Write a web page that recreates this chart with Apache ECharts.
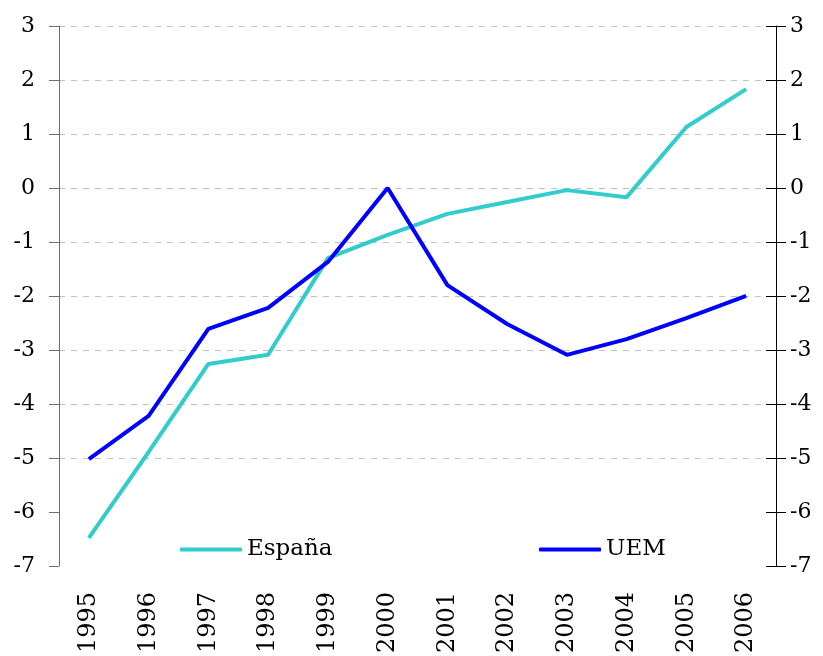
<!DOCTYPE html>
<html><head><meta charset="utf-8">
<script src="https://cdn.jsdelivr.net/npm/echarts@6/dist/echarts.min.js"></script>
<style>html,body{margin:0;padding:0;background:#fff}#c{width:823px;height:656px}</style>
</head><body><div id="c"></div>
<script>
const years = ['1995','1996','1997','1998','1999','2000','2001','2002','2003','2004','2005','2006'];
const espana = [-6.48,-4.89,-3.26,-3.09,-1.30,-0.87,-0.48,-0.26,-0.04,-0.17,1.13,1.83];
const uem = [-5.02,-4.22,-2.61,-2.22,-1.37,0.00,-1.80,-2.52,-3.09,-2.80,-2.41,-2.00];
const FONT = 'DejaVu Serif';
const chart = echarts.init(document.getElementById('c'), null, {renderer:'canvas'});
const gridColors = ['rgba(0,0,0,0)','rgba(0,0,0,0)'].concat(Array(9).fill('#c0c0c0'));
chart.setOption({
  animation:false,
  grid:{left:59,right:47,top:26,bottom:90,containLabel:false},
  legend:[
    {data:['España'],left:175,top:533,orient:'horizontal',itemWidth:62,itemHeight:4,itemGap:6,icon:'roundRect',
     textStyle:{fontFamily:FONT,fontSize:23,color:'#000'}},
    {data:['UEM'],left:534,top:533,orient:'horizontal',itemWidth:62,itemHeight:4,itemGap:6,icon:'roundRect',
     textStyle:{fontFamily:FONT,fontSize:23,color:'#000'}}
  ],
  xAxis:{type:'category',data:years,boundaryGap:true,
    axisLine:{show:false},axisTick:{show:false},
    axisLabel:{rotate:90,margin:26,fontFamily:FONT,fontSize:24,color:'#000'}},
  yAxis:[
    {type:'value',min:-7,max:3,interval:1,position:'left',
     axisLine:{show:true,lineStyle:{color:'#707070',width:1}},
     axisTick:{show:true,length:10,lineStyle:{color:'#707070'}},
     splitLine:{show:true,lineStyle:{type:[6,6],color:gridColors,width:1}},
     axisLabel:{margin:24,fontFamily:FONT,fontSize:22,color:'#000'}},
    {type:'value',min:-7,max:3,interval:1,position:'right',
     axisLine:{show:true,lineStyle:{color:'#000',width:1}},
     axisTick:{show:true,length:10,lineStyle:{color:'#000'}},
     splitLine:{show:false},
     axisLabel:{margin:14,fontFamily:FONT,fontSize:22,color:'#000'}},
    {type:'value',min:-7,max:3,interval:1,position:'right',
     axisLine:{show:false},
     axisTick:{show:true,length:10,inside:true,lineStyle:{color:'#000'}},
     splitLine:{show:false},axisLabel:{show:false}}
  ],
  series:[
    {name:'España',type:'line',data:espana,symbol:'none',lineStyle:{color:'#33CCCC',width:4},itemStyle:{color:'#33CCCC'}},
    {name:'UEM',type:'line',data:uem,symbol:'none',lineStyle:{color:'#0000FF',width:4},itemStyle:{color:'#0000FF'}}
  ]
});
</script></body></html>
